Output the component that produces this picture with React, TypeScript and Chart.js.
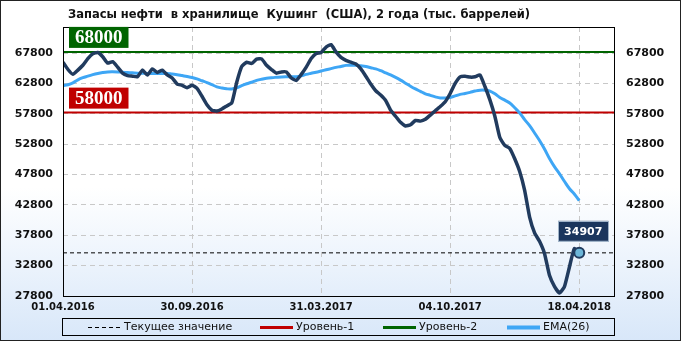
import React, { useEffect, useRef } from "react";
import { Chart, registerables } from "chart.js";
Chart.register(...registerables);

const TITLE = "Запасы нефти  в хранилище  Кушинг  (США), 2 года (тыс. баррелей)";
const DATE_LABELS = ["01.04.2016", "30.09.2016", "31.03.2017", "04.10.2017", "18.04.2018"];
const DATE_LABEL_INDEX = [0, 26, 52, 78, 104];
const Y_TICKS = [27800, 32800, 37800, 42800, 47800, 52800, 57800, 62800, 67800];
const X_MAX = 111;
const Y_MIN = 27800;
const Y_MAX = 72100;

const STOCKS = [
  66300, 65100, 64300, 65000, 65800, 66900, 67700, 67900, 67200, 66150,
  66400, 65500, 64500, 64100, 64000, 63900, 65000, 64200, 65200, 64600,
  65000, 64200, 63700, 62700, 62500, 62100, 62500, 62000, 60700, 59300,
  58400, 58250, 58600, 59100, 59600, 63000, 65600, 66300, 66100, 66800,
  66850, 65800, 65100, 64500, 64700, 64700, 63700, 63300, 64300, 65500,
  66900, 67750, 67900, 68800, 69200, 68000, 67100, 66600, 66300, 66000,
  65200, 64000, 62700, 61600, 60900, 60000, 58400, 57400, 56400, 55800,
  56000, 56700, 56600, 56900, 57600, 58300, 59000, 59800, 61150, 62800,
  63900, 64000, 63850, 63900, 64200, 62300, 60100, 57400, 53900, 52600,
  52100, 50400, 48300, 45200, 40800, 38200, 36800, 34800, 31200, 29400,
  28300, 29300, 32500, 35600, 34907,
];

const EMA26 = [
  62450, 62600, 62900, 63400, 63750, 64000, 64250, 64450, 64600, 64700,
  64720, 64700, 64650, 64600, 64550, 64500, 64480, 64460, 64460, 64460,
  64460, 64450, 64350, 64250, 64100, 63950, 63780, 63550, 63250, 62950,
  62600, 62250, 62050, 61920, 61900, 62100, 62450, 62750, 63000, 63300,
  63500, 63650, 63750, 63820, 63880, 63900, 63900, 63900, 64050, 64300,
  64480, 64650, 64850, 65050, 65250, 65450, 65600, 65780, 65800, 65780,
  65700, 65600, 65400, 65200, 64900, 64550, 64200, 63800, 63350, 62850,
  62350, 61900, 61500, 61100, 60850, 60600, 60420, 60420, 60500, 60750,
  61000, 61150, 61330, 61550, 61700, 61700, 61550, 61100, 60500, 60050,
  59580, 58800, 57950, 56850, 55850, 54650, 53400, 52000, 50450, 49100,
  47950, 46700, 45500, 44600, 43500,
];

const LEVEL_1 = 58000;
const LEVEL_2 = 68000;
const CURRENT = 34907;
const LEGEND_LABELS = ["Текущее значение", "Уровень-1", "Уровень-2", "EMA(26)"];

const NAVY = "#213b5e";
const BLUE = "#3ea6f5";
const RED = "#c00000";
const GREEN = "#006400";
const FONT = "'DejaVu Sans', Verdana, sans-serif";

const decorPlugin = {
  id: "decor",
  beforeDraw(chart: any) {
    const { ctx, width, height } = chart;
    ctx.save();
    const g = ctx.createLinearGradient(0, 0, 0, height);
    g.addColorStop(0, "#ffffff");
    g.addColorStop(0.55, "#ffffff");
    g.addColorStop(1, "#d8e7f9");
    ctx.fillStyle = g;
    ctx.fillRect(0, 0, width, height);
    ctx.restore();
  },
  afterDraw(chart: any) {
    const { ctx, chartArea, width, height } = chart;
    const xs = chart.scales.x;
    const ys = chart.scales.y;
    ctx.save();
    ctx.strokeStyle = "#000";
    ctx.lineWidth = 1;
    ctx.strokeRect(
      Math.round(chartArea.left) + 0.5,
      Math.round(chartArea.top) + 0.5,
      Math.round(chartArea.right - chartArea.left),
      Math.round(chartArea.bottom - chartArea.top)
    );
    ctx.strokeStyle = "#222";
    ctx.strokeRect(0.5, 0.5, width - 1, height - 1);

    ctx.fillStyle = "#111";
    ctx.font = `bold 11.5px ${FONT}`;
    ctx.textAlign = "left";
    ctx.textBaseline = "middle";
    ctx.fillText(TITLE, chartArea.left + 5, 15);

    const levelBox = (val: number, color: string) => {
      const y = ys.getPixelForValue(val);
      ctx.font = "bold 19px 'Liberation Serif', 'DejaVu Serif', serif";
      const tw = ctx.measureText(String(val)).width;
      const bw = tw + 12;
      const bh = 21;
      const bx = chartArea.left + 6;
      const by = y - 4 - bh;
      ctx.fillStyle = color;
      ctx.fillRect(bx, by, bw, bh);
      ctx.fillStyle = "#fff";
      ctx.textAlign = "center";
      ctx.textBaseline = "middle";
      ctx.fillText(String(val), bx + bw / 2, by + bh / 2 + 1);
    };
    levelBox(LEVEL_2, GREEN);
    levelBox(LEVEL_1, RED);

    const px = xs.getPixelForValue(STOCKS.length - 1);
    const py = ys.getPixelForValue(CURRENT);
    ctx.font = `bold 11px ${FONT}`;
    const lw = ctx.measureText(String(CURRENT)).width + 12;
    const lh = 20;
    const lx = px + 4 - lw / 2;
    const ly = py - 12 - lh;
    ctx.fillStyle = "#1b365d";
    ctx.fillRect(lx, ly, lw, lh);
    ctx.strokeStyle = "#9fb3c8";
    ctx.lineWidth = 1;
    ctx.strokeRect(Math.round(lx) + 0.5, Math.round(ly) + 0.5, Math.round(lw), Math.round(lh));
    ctx.fillStyle = "#fff";
    ctx.textAlign = "center";
    ctx.textBaseline = "middle";
    ctx.fillText(String(CURRENT), lx + lw / 2, ly + lh / 2 + 1);

    ctx.strokeStyle = "#000";
    ctx.lineWidth = 1;
    ctx.strokeRect(62.5, 318.5, 552, 17);
    const starts = [88, 260, 383, 507];
    const colors = ["#000", RED, GREEN, BLUE];
    const widths = [1, 3, 3, 4];
    ctx.font = `11px ${FONT}`;
    ctx.textAlign = "left";
    ctx.textBaseline = "middle";
    LEGEND_LABELS.forEach((lab, i) => {
      const sx = starts[i];
      const cy = 327.5;
      ctx.beginPath();
      ctx.strokeStyle = colors[i];
      ctx.lineWidth = widths[i];
      ctx.setLineDash(i === 0 ? [4, 3] : []);
      ctx.moveTo(sx, cy);
      ctx.lineTo(sx + 33, cy);
      ctx.stroke();
      ctx.setLineDash([]);
      ctx.fillStyle = "#111";
      ctx.fillText(lab, sx + 36, cy);
    });
    ctx.restore();
  },
};

export default function App() {
  const ref = useRef<HTMLCanvasElement | null>(null);
  useEffect(() => {
    document.body.style.margin = "0";
    const canvas = ref.current;
    if (!canvas) return;
    const pts = (arr: number[]) => arr.map((y, i) => ({ x: i, y }));
    const flat = (v: number) => [
      { x: 0, y: v },
      { x: X_MAX, y: v },
    ];
    const yTickSetter = (scale: any) => {
      scale.ticks = Y_TICKS.map((v) => ({ value: v }));
    };
    const yTickFmt = (v: any) => String(v);
    const chart = new Chart(canvas, {
      type: "line",
      data: {
        datasets: [
          {
            label: "last",
            data: [{ x: STOCKS.length - 1, y: CURRENT }],
            showLine: false,
            pointRadius: 5,
            pointBackgroundColor: "#6cb6d8",
            pointBorderColor: NAVY,
            pointBorderWidth: 2,
          },
          {
            label: "stocks",
            data: pts(STOCKS),
            borderColor: NAVY,
            borderWidth: 3.5,
            pointRadius: 0,
            tension: 0.15,
            borderJoinStyle: "round",
          },
          {
            label: LEGEND_LABELS[3],
            data: pts(EMA26),
            borderColor: BLUE,
            borderWidth: 3,
            pointRadius: 0,
            tension: 0.4,
          },
          {
            label: LEGEND_LABELS[1],
            data: flat(LEVEL_1),
            borderColor: RED,
            borderWidth: 2,
            pointRadius: 0,
          },
          {
            label: LEGEND_LABELS[2],
            data: flat(LEVEL_2),
            borderColor: GREEN,
            borderWidth: 2,
            pointRadius: 0,
          },
          {
            label: LEGEND_LABELS[0],
            data: flat(CURRENT),
            borderColor: "#000",
            borderWidth: 1,
            borderDash: [4, 3],
            pointRadius: 0,
          },
        ],
      },
      options: {
        responsive: false,
        animation: false,
        events: [],
        layout: { padding: { top: 27, left: 0, right: 0, bottom: 0 } },
        plugins: { legend: { display: false }, tooltip: { enabled: false }, title: { display: false } },
        scales: {
          x: {
            type: "linear",
            min: 0,
            max: X_MAX,
            afterBuildTicks: (scale: any) => {
              scale.ticks = DATE_LABEL_INDEX.map((v) => ({ value: v }));
            },
            afterFit: (scale: any) => {
              scale.height = 45;
            },
            ticks: {
              autoSkip: false,
              maxRotation: 0,
              padding: 5,
              color: "#111",
              font: { family: FONT, size: 10, weight: "bold" },
              callback: (v: any) => {
                const k = DATE_LABEL_INDEX.indexOf(Number(v));
                return k >= 0 ? DATE_LABELS[k] : "";
              },
            },
            grid: { color: "#c8c8c8", drawTicks: false, lineWidth: 1 },
            border: { display: false, dash: [5, 4] },
          },
          y: {
            type: "linear",
            position: "left",
            min: Y_MIN,
            max: Y_MAX,
            afterBuildTicks: yTickSetter,
            afterFit: (scale: any) => {
              scale.width = 63;
            },
            ticks: {
              padding: 10,
              color: "#111",
              font: { family: FONT, size: 11, weight: "bold" },
              callback: yTickFmt,
            },
            grid: { color: "#c8c8c8", drawTicks: false, lineWidth: 1 },
            border: { display: false, dash: [5, 4] },
          },
          y2: {
            type: "linear",
            position: "right",
            min: Y_MIN,
            max: Y_MAX,
            afterBuildTicks: yTickSetter,
            afterFit: (scale: any) => {
              scale.width = 67;
            },
            ticks: {
              padding: 12,
              color: "#111",
              font: { family: FONT, size: 11, weight: "bold" },
              callback: yTickFmt,
            },
            grid: { drawOnChartArea: false, drawTicks: false },
            border: { display: false },
          },
        },
      },
      plugins: [decorPlugin],
    } as any);
    return () => chart.destroy();
  }, []);
  return <canvas ref={ref} width={681} height={341} style={{ display: "block" }} />;
}
